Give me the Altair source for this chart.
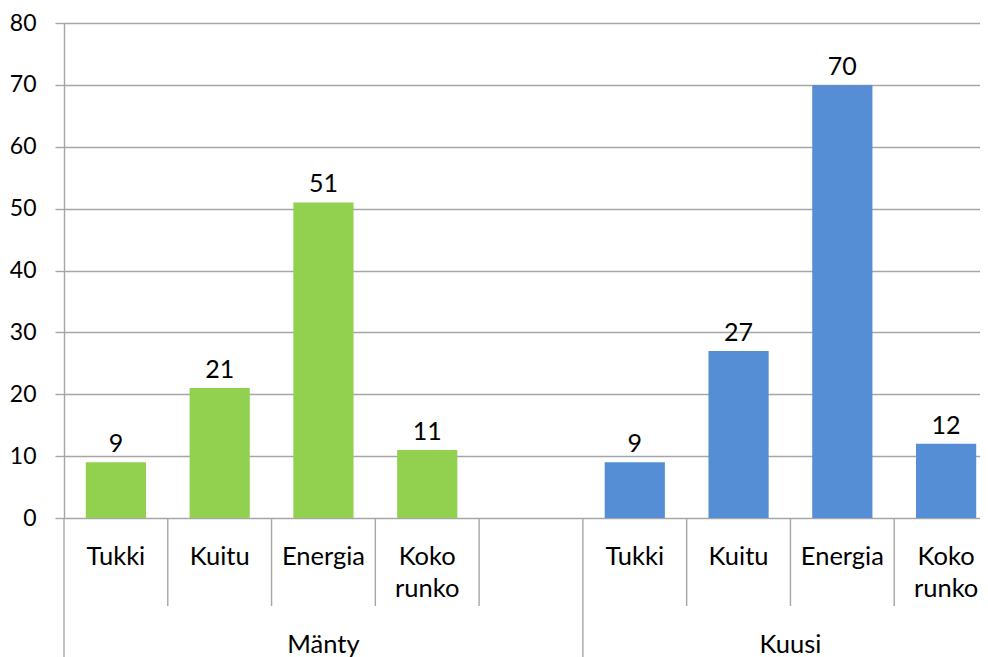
import altair as alt
import pandas as pd

# ---- data ----
groups = ["Mänty", "Kuusi"]
assortments = ["Tukki", "Kuitu", "Energia", "Koko runko"]
manty_values = [9, 21, 51, 11]
kuusi_values = [9, 27, 70, 12]
group_colors = ["#92D050", "#558ED5"]
y_ticks = [0, 10, 20, 30, 40, 50, 60, 70, 80]
# Mänty group has one extra empty category slot after its four assortments
extra_empty_slots = {"Mänty": 1, "Kuusi": 0}

FONT = "Lato"
GRID = "#a6a6a6"
W, H = 934, 495

slot_order, bar_rows, cat_rows, div_rows, grp_rows = [], [], [], [], []
for g, vals in zip(groups, [manty_values, kuusi_values]):
    keys = [f"{g}|{a}" for a in assortments] + [f"{g}|_{i}" for i in range(extra_empty_slots[g])]
    slot_order += keys
    for a, v in zip(assortments, vals):
        bar_rows.append({"slot": f"{g}|{a}", "group": g, "value": v})
        cat_rows.append({"slot": f"{g}|{a}", "label": a})
    for i, k in enumerate(keys):
        div_rows.append({"slot": k, "kind": "long" if i == 0 else "short"})
    n = len(keys)
    if n % 2 == 1:
        grp_rows.append({"slot": keys[n // 2], "label": g, "bp": 0.5})
    else:
        grp_rows.append({"slot": keys[n // 2], "label": g, "bp": 0.0})

bars_df = pd.DataFrame(bar_rows)
cat_df = pd.DataFrame(cat_rows)
div_df = pd.DataFrame(div_rows)
grp_df = pd.DataFrame(grp_rows)

x_scale = alt.Scale(domain=slot_order, paddingInner=0, paddingOuter=0)
y_scale = alt.Scale(domain=[0, 80], nice=False)
y_axis = alt.Axis(
    values=y_ticks, title=None, grid=True, gridColor=GRID, gridWidth=1.4,
    domain=True, domainColor=GRID, domainWidth=1.4,
    ticks=True, tickColor=GRID, tickSize=9, tickWidth=1.4,
    labelPadding=19, labelFont=FONT, labelFontSize=23, labelColor="#000000")

bars = alt.Chart(bars_df).mark_bar(width={"band": 0.58}).encode(
    x=alt.X("slot:N", scale=x_scale, axis=None, sort=slot_order),
    y=alt.Y("value:Q", scale=y_scale, axis=y_axis),
    color=alt.Color("group:N", scale=alt.Scale(domain=groups, range=group_colors), legend=None),
)

values_txt = alt.Chart(bars_df).mark_text(
    font=FONT, fontSize=25, color="#000000", baseline="alphabetic", dy=-10
).encode(
    x=alt.X("slot:N", scale=x_scale, axis=None, sort=slot_order),
    y=alt.Y("value:Q", scale=y_scale, axis=y_axis),
    text="value:Q",
)

short_div = alt.Chart(div_df).transform_filter("datum.kind == 'short'").mark_rule(
    color=GRID, strokeWidth=1.4
).encode(
    x=alt.X("slot:N", scale=x_scale, axis=None, sort=slot_order, bandPosition=0),
    y=alt.value(H), y2=alt.value(H + 88),
)
long_div = alt.Chart(div_df).transform_filter("datum.kind == 'long'").mark_rule(
    color=GRID, strokeWidth=1.4
).encode(
    x=alt.X("slot:N", scale=x_scale, axis=None, sort=slot_order, bandPosition=0),
    y=alt.value(H), y2=alt.value(H + 139),
)

cat_txt = alt.Chart(cat_df).mark_text(
    font=FONT, fontSize=25.5, color="#000000", baseline="alphabetic", lineBreak=" ", lineHeight=32
).encode(
    x=alt.X("slot:N", scale=x_scale, axis=None, sort=slot_order),
    y=alt.value(H + 47),
    text="label:N",
)

grp_layers = []
for _, r in grp_df.iterrows():
    grp_layers.append(
        alt.Chart(grp_df[grp_df["label"] == r["label"]]).mark_text(
            font=FONT, fontSize=25.5, color="#000000", baseline="alphabetic"
        ).encode(
            x=alt.X("slot:N", scale=x_scale, axis=None, sort=slot_order, bandPosition=float(r["bp"])),
            y=alt.value(H + 135),
            text="label:N",
        )
    )

chart = alt.layer(bars, short_div, long_div, values_txt, cat_txt, *grp_layers).properties(
    width=W, height=H,
    autosize=alt.AutoSizeParams(type="none"),
    padding={"left": 56, "top": 15, "right": -18, "bottom": 139},
).configure_view(stroke=None).configure(font=FONT)

chart.save("out.html", embed_options={"renderer": "svg", "actions": False})
